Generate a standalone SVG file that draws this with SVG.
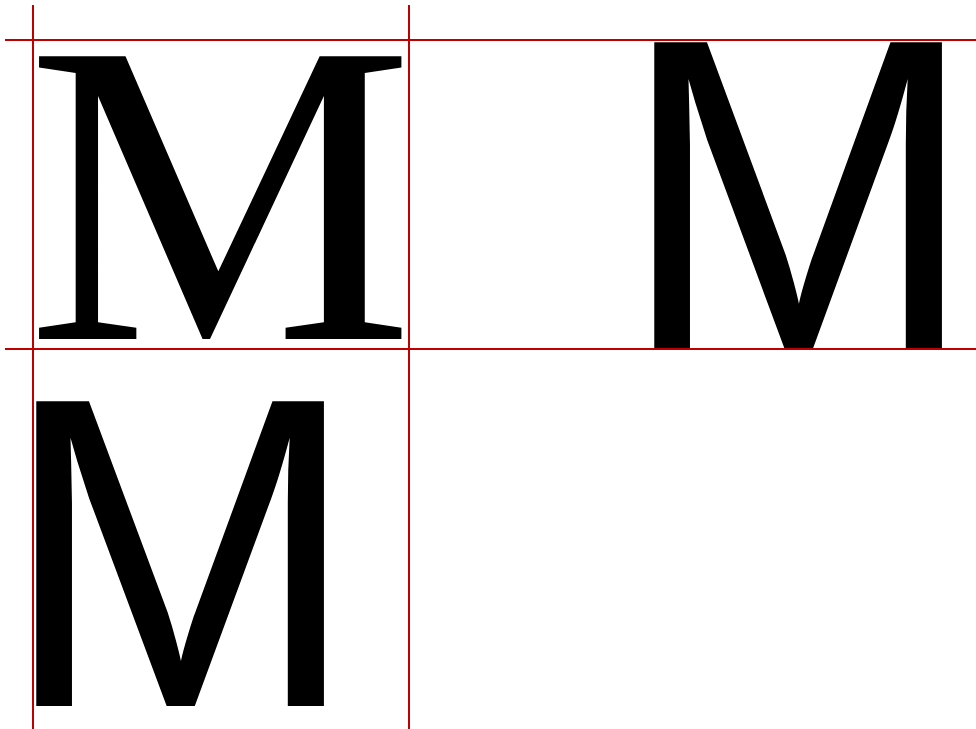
<svg xmlns="http://www.w3.org/2000/svg" width="976" height="729" viewBox="0 0 976 729">
<style>
.guide{stroke:#c00000;stroke-width:2;fill:none}
.serif{font-family:"Liberation Serif",serif;font-size:436px;fill:#000}
.sans{font-family:"Liberation Sans",sans-serif;font-size:430px;fill:#000}
</style>
<rect width="976" height="729" fill="#fff"/>
<g id="glyph-serif" transform="translate(26.5,339) scale(1,0.99)"><text class="serif" x="0" y="0">M</text></g>
<g id="glyph-sans-right" transform="translate(619,349) scale(1,1.037)"><text class="sans" x="0" y="0">M</text></g>
<g id="glyph-sans-bottom" transform="translate(1,706) scale(1,1.03)"><text class="sans" x="0" y="0">M</text></g>
<g id="guides">
<line class="guide" x1="33" y1="5" x2="33" y2="729"/>
<line class="guide" x1="409" y1="5" x2="409" y2="729"/>
<line class="guide" x1="5" y1="40" x2="976" y2="40"/>
<line class="guide" x1="5" y1="349" x2="976" y2="349"/>
</g>
</svg>
